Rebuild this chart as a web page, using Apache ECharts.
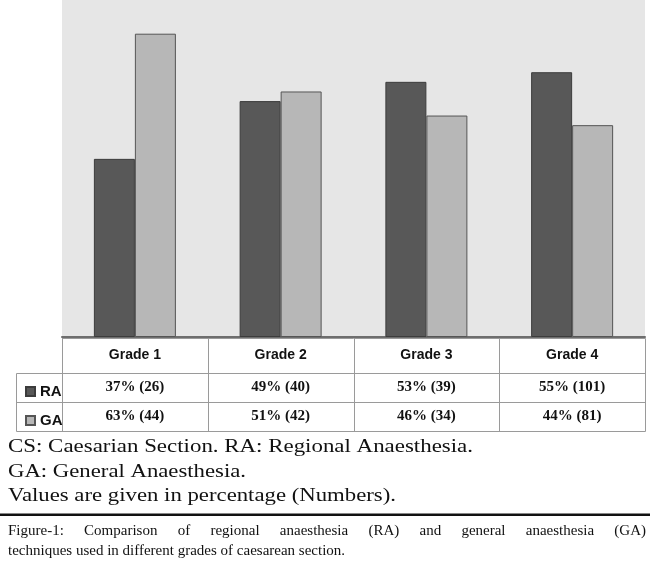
<!DOCTYPE html>
<html>
<head>
<meta charset="utf-8">
<script src="https://cdn.jsdelivr.net/npm/echarts@6/dist/echarts.min.js"></script>
<style>
  html, body { margin: 0; padding: 0; background: #fff; }
  #main { width: 650px; height: 565px; }
</style>
</head>
<body>
<div id="main"></div>
<script>
// chart data
const categories = ['Grade 1', 'Grade 2', 'Grade 3', 'Grade 4'];
const raPercent = [37, 49, 53, 55];
const raCount = [26, 40, 39, 101];
const gaPercent = [63, 51, 46, 44];
const gaCount = [44, 42, 34, 81];

const notes = [
  'CS: Caesarian Section. RA: Regional Anaesthesia.',
  'GA: General Anaesthesia.',
  'Values are given in percentage (Numbers).'
];
const figCaption = [
  'Figure-1: Comparison of regional anaesthesia (RA) and general anaesthesia (GA)',
  'techniques used in different grades of caesarean section.'
];

const gridLeft = 62, gridRight = 5, gridTop = 0, gridBottom = 228;
const W = 650, H = 565;
const axisY = H - gridBottom;
const plotW = W - gridLeft - gridRight;
const colW = plotW / categories.length;

const serif = '"Liberation Serif", "Times New Roman", serif';
const sans = '"Liberation Sans", Tahoma, sans-serif';

const ctx = document.createElement('canvas').getContext('2d');

// table lines
const lineStyle = { stroke: '#9a9a9a', lineWidth: 1 };
const rows = [axisY + 1.5, axisY + 36.5, axisY + 65.5, axisY + 94.5];
const tableLeft = 16.5, tableRight = W - gridRight + 0.5;
const graphics = [];
function hline(x1, x2, y) {
  graphics.push({ type: 'line', shape: { x1: x1, y1: y, x2: x2, y2: y }, style: lineStyle, silent: true });
}
function vline(x, y1, y2) {
  graphics.push({ type: 'line', shape: { x1: x, y1: y1, x2: x, y2: y2 }, style: lineStyle, silent: true });
}
hline(gridLeft, tableRight, rows[0]);
for (let i = 1; i < rows.length; i++) hline(tableLeft, tableRight, rows[i]);
vline(tableLeft, rows[1], rows[3]);
for (let i = 0; i <= categories.length; i++) {
  vline(Math.round(gridLeft + i * colW) + 0.5, rows[0], rows[3]);
}

// notes under the table, stretched a bit like the scanned original
const noteFont = '18px ' + serif;
const noteY = [447, 472, 496];
const noteW = [465, 238, 388];
ctx.font = noteFont;
notes.forEach(function (t, i) {
  graphics.push({
    type: 'text', x: 8, y: noteY[i], silent: true,
    scaleX: noteW[i] / ctx.measureText(t).width,
    style: { text: t, font: noteFont, fill: '#111', verticalAlign: 'middle' }
  });
});
graphics.push({ type: 'rect', shape: { x: 0, y: 513.5, width: W, height: 2.5 }, style: { fill: '#111' }, silent: true });

// justified first caption line, plain second line
const capFont = '15px ' + serif;
ctx.font = capFont;
const capWords = figCaption[0].split(' ');
const wordsW = capWords.reduce(function (s, w) { return s + ctx.measureText(w).width; }, 0);
const gap = (W - 4 - 8 - wordsW) / (capWords.length - 1);
let cx = 8;
capWords.forEach(function (w) {
  graphics.push({ type: 'text', x: cx, y: 531, silent: true, style: { text: w, font: capFont, fill: '#111', verticalAlign: 'middle' } });
  cx += ctx.measureText(w).width + gap;
});
graphics.push({
  type: 'text', x: 8, y: 551, silent: true,
  style: { text: figCaption[1], font: capFont, fill: '#111', verticalAlign: 'middle' }
});

const chart = echarts.init(document.getElementById('main'));
chart.setOption({
  animation: false,
  grid: {
    left: gridLeft, right: gridRight, top: gridTop, bottom: gridBottom,
    show: true, backgroundColor: '#e6e6e6', borderWidth: 0
  },
  legend: {
    orient: 'vertical', left: 20, top: 379, itemGap: 14,
    itemWidth: 9, itemHeight: 9, icon: 'rect',
    textStyle: { fontFamily: sans, fontWeight: 'bold', fontSize: 15, color: '#111', lineHeight: 15 },
    data: ['RA', 'GA']
  },
  xAxis: {
    type: 'category',
    data: categories,
    axisLine: { lineStyle: { color: '#6e6e6e', width: 2 } },
    axisTick: { show: false },
    axisLabel: {
      margin: 1,
      interval: 0,
      formatter: function (v, i) {
        return '{h|' + v + '}\n{v|' + raPercent[i] + '% (' + raCount[i] + ')}\n{v|' +
          gaPercent[i] + '% (' + gaCount[i] + ')}';
      },
      rich: {
        h: { fontFamily: sans, fontWeight: 'bold', fontSize: 14, color: '#111', lineHeight: 35 },
        v: { fontFamily: serif, fontWeight: 'bold', fontSize: 15, color: '#111', lineHeight: 29 }
      }
    }
  },
  yAxis: {
    type: 'value', min: 0, max: 70,
    axisLine: { show: false }, axisTick: { show: false },
    axisLabel: { show: false }, splitLine: { show: false }
  },
  series: [
    {
      name: 'RA', type: 'bar', data: raPercent, barWidth: 41, barGap: '0%',
      itemStyle: { color: '#585858', borderColor: '#3c3c3c', borderWidth: 1 }
    },
    {
      name: 'GA', type: 'bar', data: gaPercent, barWidth: 41,
      itemStyle: { color: '#b7b7b7', borderColor: '#555', borderWidth: 1 }
    }
  ],
  graphic: graphics
});
</script>
</body>
</html>
